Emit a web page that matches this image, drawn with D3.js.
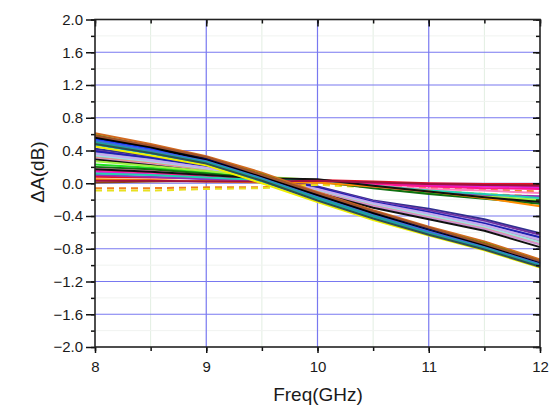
<!DOCTYPE html>
<html>
<head>
<meta charset="utf-8">
<title>dA vs freq</title>
<script src="https://d3js.org/d3.v7.min.js"></script>
<style>
  body { margin: 0; background: #fff; }
  svg { display: block; }
  text { font-family: "Liberation Sans", Arial, sans-serif; fill: #1a1a1a; }
  .axis path { display: none; }
  .axis line { stroke: #111; stroke-width: 1.5; }
  .axis text { font-size: 15px; }
</style>
</head>
<body>
<script>
// frequency points (GHz)
const freqs = [8, 8.5, 9, 9.5, 10, 10.5, 11, 11.5, 12];

// amplitude error traces, dB -- flat group (ends near 0 .. -0.3)
const flatGroup = [
  [0.08, 0.07, 0.06, 0.05, 0.04, 0.02, 0.00, -0.01, -0.01],
  [0.01, 0.02, 0.03, 0.03, 0.03, 0.01, -0.01, -0.02, -0.03],
  [-0.06, -0.06, -0.05, -0.05, -0.01, -0.03, -0.06, -0.08, -0.10],
  [-0.09, -0.09, -0.07, -0.06, -0.02, -0.05, -0.09, -0.13, -0.16],
  [0.14, 0.11, 0.07, 0.04, 0.03, 0.00, -0.03, -0.04, -0.05],
  [0.16, 0.13, 0.08, 0.05, 0.03, -0.01, -0.04, -0.06, -0.07],
  [0.19, 0.16, 0.11, 0.06, 0.02, -0.03, -0.07, -0.09, -0.12],
  [0.23, 0.19, 0.13, 0.07, 0.03, -0.05, -0.12, -0.18, -0.22],
  [0.27, 0.21, 0.15, 0.08, 0.04, -0.04, -0.10, -0.16, -0.20],
  [0.20, 0.17, 0.12, 0.06, 0.02, -0.06, -0.13, -0.19, -0.25],
  [0.10, 0.08, 0.05, 0.02, 0.02, -0.04, -0.10, -0.14, -0.16],
  [0.12, 0.10, 0.07, 0.04, 0.04, -0.03, -0.09, -0.13, -0.18],
  [0.05, 0.04, 0.02, 0.01, 0.01, -0.04, -0.10, -0.18, -0.28],
  [0.17, 0.14, 0.10, 0.06, 0.05, -0.03, -0.10, -0.17, -0.23],
  [0.03, 0.03, 0.02, 0.02, 0.03, 0.01, -0.01, -0.02, -0.03]
];

// middle group (ends near -0.6 .. -0.8)
const midGroup = [
  [0.42, 0.33, 0.22, 0.09, -0.04, -0.21, -0.31, -0.44, -0.61],
  [0.40, 0.31, 0.21, 0.08, -0.05, -0.22, -0.33, -0.46, -0.63],
  [0.38, 0.30, 0.20, 0.07, -0.06, -0.23, -0.35, -0.48, -0.66],
  [0.37, 0.29, 0.19, 0.06, -0.07, -0.24, -0.37, -0.50, -0.68],
  [0.35, 0.27, 0.18, 0.05, -0.08, -0.25, -0.38, -0.52, -0.70],
  [0.33, 0.26, 0.17, 0.04, -0.09, -0.26, -0.39, -0.53, -0.71],
  [0.31, 0.25, 0.16, 0.03, -0.10, -0.27, -0.41, -0.55, -0.73],
  [0.30, 0.23, 0.15, 0.02, -0.11, -0.28, -0.42, -0.56, -0.75],
  [0.34, 0.27, 0.18, 0.05, -0.08, -0.25, -0.39, -0.53, -0.72],
  [0.39, 0.31, 0.21, 0.08, -0.05, -0.23, -0.35, -0.49, -0.66],
  [0.29, 0.22, 0.14, 0.01, -0.12, -0.30, -0.44, -0.58, -0.78],
  [0.36, 0.28, 0.19, 0.06, -0.07, -0.24, -0.37, -0.51, -0.69]
];

// steep group (ends near -1.0)
const steepGroup = [
  [0.61, 0.48, 0.33, 0.13, -0.11, -0.33, -0.53, -0.71, -0.93],
  [0.59, 0.45, 0.31, 0.11, -0.13, -0.35, -0.55, -0.73, -0.95],
  [0.57, 0.45, 0.30, 0.09, -0.14, -0.36, -0.56, -0.75, -0.96],
  [0.55, 0.42, 0.29, 0.08, -0.15, -0.37, -0.57, -0.76, -0.97],
  [0.53, 0.42, 0.27, 0.07, -0.16, -0.38, -0.58, -0.77, -0.98],
  [0.51, 0.39, 0.26, 0.05, -0.18, -0.40, -0.60, -0.78, -0.99],
  [0.49, 0.38, 0.25, 0.04, -0.19, -0.41, -0.61, -0.79, -1.00],
  [0.47, 0.36, 0.24, 0.02, -0.20, -0.42, -0.62, -0.80, -1.01],
  [0.45, 0.34, 0.22, 0.00, -0.23, -0.45, -0.64, -0.82, -1.03],
  [0.56, 0.44, 0.28, 0.08, -0.15, -0.37, -0.58, -0.76, -0.98],
  [0.52, 0.40, 0.27, 0.06, -0.17, -0.39, -0.59, -0.78, -0.99],
  [0.50, 0.38, 0.26, 0.05, -0.18, -0.40, -0.61, -0.79, -1.00],
  [0.58, 0.46, 0.32, 0.10, -0.12, -0.34, -0.54, -0.74, -0.95],
  [0.48, 0.37, 0.24, 0.03, -0.21, -0.43, -0.63, -0.81, -1.02]
];

const xTicks = [8, 9, 10, 11, 12];
const yTicks = [-2.0, -1.6, -1.2, -0.8, -0.4, 0.0, 0.4, 0.8, 1.2, 1.6, 2.0];

// styles kept apart from the values
const flatColors = ['#e8102a', '#8b4513', '#f08020', '#e8e020', '#e020e0', '#ff1493', '#ff80c0',
  '#20e020', '#a0f040', '#107010', '#9030c0', '#20d0b0', '#ff8c00', '#111111', '#a01040'];
const midColors = ['#303090', '#7030a0', '#b0a0e0', '#a0b8d0', '#f0a0c0', '#909090',
  '#f09080', '#d090d0', '#a0e0e0', '#2020b0', '#111111', '#c8a8f0'];
const steepColors = ['#d2691e', '#808000', '#111111', '#000080', '#1e40ff', '#008b8b',
  '#b8860b', '#00c0e0', '#f0f000', '#000000', '#4169e1', '#20a0a0', '#a0522d', '#2f4f4f'];
const dashedFlat = [2, 3];

const W = 552, H = 405;
const margin = { left: 95, right: 12, top: 19.5, bottom: 58 };
const width = W - margin.left - margin.right;
const height = H - margin.top - margin.bottom;

const svg = d3.select('body').append('svg')
  .attr('width', W)
  .attr('height', H);

// title, cut off at the top of the picture (only a descender shows)
svg.append('text')
  .attr('x', 432).attr('y', -4)
  .attr('text-anchor', 'end')
  .style('font-size', '18px')
  .style('font-weight', 'bold')
  .text('Amplitude accuracy');

const g = svg.append('g')
  .attr('transform', `translate(${margin.left},${margin.top})`);

const x = d3.scaleLinear().domain([8, 12]).range([0, width]);
const y = d3.scaleLinear().domain([-2, 2]).range([height, 0]);

const xMinor = d3.range(8, 12.01, 0.5);
const yMinor = d3.range(-2, 2.01, 0.2).map(v => +v.toFixed(1));

// minor grid
g.append('g').selectAll('line').data(xMinor.filter(v => !xTicks.includes(v)))
  .join('line')
  .attr('x1', d => x(d)).attr('x2', d => x(d))
  .attr('y1', 0).attr('y2', height)
  .attr('stroke', '#e2eee2').attr('stroke-width', 1);
g.append('g').selectAll('line').data(yMinor.filter(v => !yTicks.some(t => Math.abs(t - v) < 1e-6)))
  .join('line')
  .attr('x1', 0).attr('x2', width)
  .attr('y1', d => y(d)).attr('y2', d => y(d))
  .attr('stroke', '#f0f3f0').attr('stroke-width', 1);

// major grid
g.append('g').selectAll('line').data(xTicks.slice(1, -1))
  .join('line')
  .attr('x1', d => x(d)).attr('x2', d => x(d))
  .attr('y1', 0).attr('y2', height)
  .attr('stroke', '#7878f0').attr('stroke-width', 1.2);
g.append('g').selectAll('line').data(yTicks.slice(1, -1))
  .join('line')
  .attr('x1', 0).attr('x2', width)
  .attr('y1', d => y(d)).attr('y2', d => y(d))
  .attr('stroke', '#7878f0').attr('stroke-width', 1.2);

// traces
const line = d3.line()
  .x((d, i) => x(freqs[i]))
  .y(d => y(d));

const traces = [];
midGroup.forEach((v, i) => traces.push({ v, c: midColors[i], dash: false }));
flatGroup.forEach((v, i) => traces.push({ v, c: flatColors[i], dash: dashedFlat.includes(i) }));
steepGroup.forEach((v, i) => traces.push({ v, c: steepColors[i], dash: false }));

g.append('g').selectAll('path').data(traces)
  .join('path')
  .attr('d', d => line(d.v))
  .attr('fill', 'none')
  .attr('stroke', d => d.c)
  .attr('stroke-width', 2)
  .attr('stroke-linejoin', 'round')
  .attr('stroke-dasharray', d => d.dash ? '7,5' : null);

// axes: outer ticks left/bottom, inner ticks top/right
const fmt = d3.format('.1f');

g.append('g').attr('class', 'axis')
  .attr('transform', `translate(0,${height})`)
  .call(d3.axisBottom(x).tickValues(xMinor).tickSize(4).tickFormat(''));
g.append('g').attr('class', 'axis')
  .attr('transform', `translate(0,${height})`)
  .call(d3.axisBottom(x).tickValues(xTicks).tickSize(6).tickPadding(8).tickFormat(d3.format('d')));

g.append('g').attr('class', 'axis')
  .call(d3.axisLeft(y).tickValues(yMinor).tickSize(4).tickFormat(''));
g.append('g').attr('class', 'axis')
  .call(d3.axisLeft(y).tickValues(yTicks).tickSize(9).tickPadding(3).tickFormat(fmt));

g.append('g').attr('class', 'axis')
  .call(d3.axisBottom(x).tickValues(xMinor).tickSize(4).tickFormat(''));
g.append('g').attr('class', 'axis')
  .call(d3.axisBottom(x).tickValues(xTicks).tickSize(7).tickFormat(''));

g.append('g').attr('class', 'axis')
  .attr('transform', `translate(${width},0)`)
  .call(d3.axisLeft(y).tickValues(yMinor).tickSize(4).tickFormat(''));
g.append('g').attr('class', 'axis')
  .attr('transform', `translate(${width},0)`)
  .call(d3.axisLeft(y).tickValues(yTicks).tickSize(7).tickFormat(''));

// frame
g.append('rect')
  .attr('width', width).attr('height', height)
  .attr('fill', 'none')
  .attr('stroke', '#222').attr('stroke-width', 1.6);

// axis titles
svg.append('text')
  .attr('x', 318)
  .attr('y', 401)
  .attr('text-anchor', 'middle')
  .style('font-size', '19px')
  .text('Freq(GHz)');

svg.append('text')
  .attr('transform', `translate(44,172) rotate(-90)`)
  .attr('text-anchor', 'middle')
  .style('font-size', '19px')
  .text('ΔA(dB)');
</script>
</body>
</html>
